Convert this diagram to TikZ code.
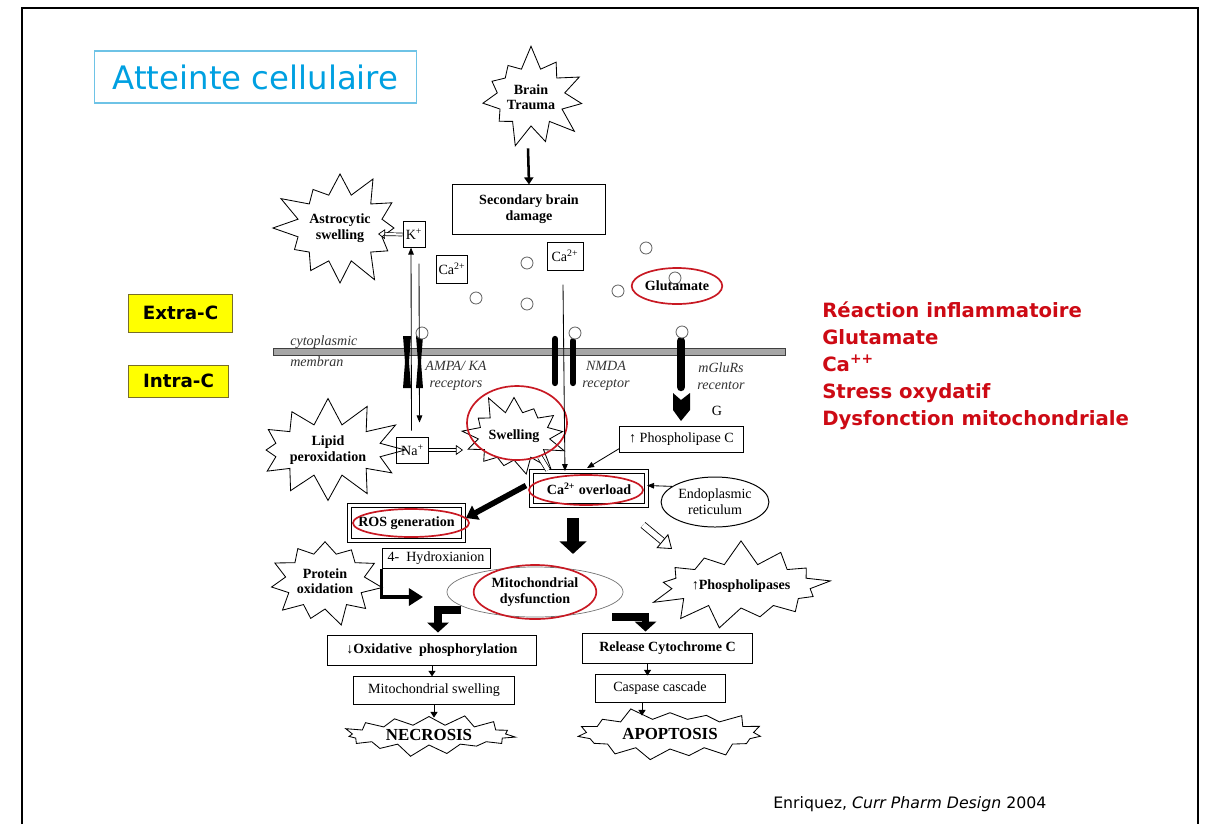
\documentclass[tikz,border=0pt]{standalone}
\usepackage{fontspec}
\setmainfont{Liberation Serif}
\newfontfamily\comicfont{DejaVu Sans}
\usepackage{tikz}
\usetikzlibrary{arrows.meta,shapes.symbols,shapes.geometric,calc,positioning}
\usepackage{xcolor}

\definecolor{slideblue}{RGB}{0,160,225}
\definecolor{frameblue}{RGB}{110,195,230}
\definecolor{alertred}{RGB}{205,10,20}
\definecolor{ringred}{RGB}{200,25,35}
\definecolor{tagyellow}{RGB}{255,255,0}
\definecolor{tagolive}{RGB}{120,110,40}

\tikzset{
  burst/.style={starburst, draw, fill=white, line width=0.6pt, align=center,
    inner sep=0pt, font=\bfseries\fontsize{10}{11}\selectfont},
  box/.style={draw, line width=0.7pt, inner sep=1pt, align=center,
    font=\fontsize{10}{11.5}\selectfont},
  bbox/.style={box, font=\bfseries\fontsize{10}{11.5}\selectfont},
  framed/.style={draw, double, double distance=2.5pt, line width=0.6pt,
    font=\bfseries\fontsize{10}{11.5}\selectfont},
  ring/.style={ellipse, draw=ringred, line width=1.2pt, inner sep=0pt},
  gcirc/.style={circle, draw=black!60, fill=white, line width=0.6pt,
    minimum size=0.3cm, inner sep=0pt},
  tag/.style={draw=tagolive, fill=tagyellow, line width=0.6pt,
    font=\comicfont\bfseries\fontsize{13}{15}\selectfont},
  rcpt/.style={font=\itshape\fontsize{10}{12}\selectfont, text=black!80, align=center},
  thin/.style={line width=0.6pt, -{Triangle[length=5pt,width=4pt]}},
  tiny/.style={line width=0.7pt, -{Triangle[length=4pt,width=5pt]}},
  med/.style={line width=1.8pt, -{Triangle[length=5pt,width=6.5pt]}},
  fat/.style={line width=4pt, -{Triangle[length=8pt,width=11pt]}},
  bigdown/.style={line width=9pt, -{Triangle[length=9pt,width=19pt]}},
  elbow/.style={line width=5.5pt, line join=miter, -{Triangle[length=7pt,width=15pt]}},
  elbowthin/.style={line width=2.4pt, line join=miter, -{Triangle[length=10pt,width=12pt]}},
  hollow/.style={double, double distance=1.6pt, line width=0.5pt,
    -{Triangle[open,length=5pt,width=7pt]}},
  hollowbig/.style={double, double distance=4pt, line width=0.6pt,
    -{Triangle[open,length=9pt,width=13pt]}},
}

\begin{document}
\begin{tikzpicture}[x=0.025cm,y=-0.025cm,>=Latex]
  \useasboundingbox (0,0) rectangle (1220,824);
  \draw[line width=1.3pt] (22,824) -- (22,8) -- (1198,8) -- (1198,824);

  % slide title, tags, notes
  \node[draw=frameblue, line width=0.8pt, minimum width=8.03cm, minimum height=1.3cm,
    text=slideblue, font=\comicfont\fontsize{23}{26}\selectfont] (title) at (255.5,77) {Atteinte cellulaire};
  \node[tag, minimum width=2.58cm, minimum height=0.95cm] (extra) at (180.5,313) {Extra-C};
  \node[tag, minimum width=2.48cm, minimum height=0.8cm] (intra) at (178.5,381) {Intra-C};
  \node[anchor=north west, inner sep=0pt, align=left, text=alertred,
    font=\comicfont\bfseries\fontsize{14}{19.2}\selectfont] (alerts) at (822,301)
    {Réaction inflammatoire\\Glutamate\\Ca\textsuperscript{++}\\Stress oxydatif\\Dysfonction mitochondriale};
  \node[anchor=base west, inner sep=0pt, font=\comicfont\fontsize{11.2}{13}\selectfont] (cite) at (773,808)
    {Enriquez, \textit{Curr Pharm Design} 2004};

  % membrane and receptors
  \draw[fill=black!35, draw=black!75, line width=0.4pt] (273,348) rectangle (785,355);
  \node[rcpt, anchor=base west, inner sep=0pt] (cytolbl) at (290,345) {cytoplasmic};
  \node[rcpt, anchor=base west, inner sep=0pt] (memblbl) at (290,366) {membran};
  \fill (403,336) -- (411,336) -- (409,362) -- (411,388) -- (403,388) -- (405,362) -- cycle;
  \fill (416,336) -- (423,336) -- (421,362) -- (423,388) -- (416,388) -- (418,362) -- cycle;
  \draw[line width=4.5pt, line cap=round] (555,339) -- (555,383);
  \draw[line width=4.5pt, line cap=round] (573,341) -- (573,383);
  \draw[line width=6pt, line cap=round] (681,341) -- (681,387);
  \fill (673,393) -- (681,400) -- (690,393) -- (690,410) -- (681,421) -- (673,410) -- cycle;
  \node[rcpt] (ampalbl) at (456,376) {AMPA/ KA\\receptors};
  \node[rcpt] (nmdalbl) at (606,376) {NMDA\\receptor};
  \node[rcpt] (mglulbl) at (721,376) {mGluRs\\recentor};
  \node[font=\fontsize{10}{11}\selectfont] (glbl) at (717,411) {G};

  % glutamate
  \node[gcirc] (g1) at (527,263) {};
  \node[gcirc] (g2) at (476,298) {};
  \node[gcirc] (g3) at (527,304) {};
  \node[gcirc] (g4) at (646,248) {};
  \node[gcirc] (g5) at (618,291) {};
  \node[gcirc] (g6) at (675,278) {};
  \node[gcirc] (g7) at (422,333) {};
  \node[gcirc] (g8) at (575,333) {};
  \node[gcirc] (g9) at (682,332) {};
  \node[ring, minimum width=2.2cm, minimum height=0.9cm, font=\bfseries\fontsize{10}{11}\selectfont,
    text depth=-5pt] (glut) at (677,286) {Glutamate};

  % stars
  \node[burst, minimum width=2.8cm, minimum height=2.65cm, starburst points=11,
    starburst point height=0.6cm, random starburst=7] (trauma) at (531,97) {Brain\\Trauma};
  \node[burst, minimum width=2.75cm, minimum height=3.1cm, starburst points=12,
    starburst point height=0.7cm, random starburst=21] (astro) at (340,228) {Astrocytic\\swelling};
  \node[burst, minimum width=3.1cm, minimum height=2.6cm, starburst points=12,
    starburst point height=0.65cm, random starburst=33] (lipid) at (328,450) {Lipid\\peroxidation};
  \node[burst, minimum width=2.55cm, minimum height=2.2cm, starburst points=13,
    starburst point height=0.5cm, random starburst=44] (swell) at (514,436) {Swelling};
  \node[burst, minimum width=2.5cm, minimum height=2.6cm, starburst points=11,
    starburst point height=0.6cm, random starburst=55] (protein) at (325,581) {Protein\\oxidation};
  \node[burst, minimum width=3.7cm, minimum height=2.3cm, starburst points=13,
    starburst point height=0.6cm, random starburst=66] (phosph) at (741,586) {\textuparrow Phospholipases};
  \node[burst, minimum width=4.45cm, minimum height=1.1cm, starburst points=15,
    starburst point height=0.3cm, random starburst=77, font=\bfseries\fontsize{12}{13}\selectfont] (necro) at (429,735) {NECROSIS};
  \node[burst, minimum width=4.9cm, minimum height=1.45cm, starburst points=15,
    starburst point height=0.35cm, random starburst=88, font=\bfseries\fontsize{12}{13}\selectfont] (apopt) at (670,734) {APOPTOSIS};
  \node[ring, minimum width=2.5cm, minimum height=1.85cm] (swellring) at (517,423) {};

  % boxes
  \node[bbox, minimum width=3.8cm, minimum height=1.23cm] (sbd) at (529,209.5) {Secondary brain\\damage};
  \node[box, minimum width=0.55cm, minimum height=0.63cm] (kion) at (414,234.5) {K\textsuperscript{+}};
  \node[box, minimum width=0.78cm, minimum height=0.7cm] (caL) at (452,269) {Ca\textsuperscript{2+}};
  \node[box, minimum width=0.9cm, minimum height=0.7cm] (caR) at (565,256) {Ca\textsuperscript{2+}};
  \node[box, minimum width=0.78cm, minimum height=0.65cm] (na) at (412.5,450) {Na\textsuperscript{+}};
  \node[box, minimum width=3.08cm, minimum height=0.65cm] (plc) at (681.5,439) {\textuparrow\ Phospholipase C};
  \node[framed, minimum width=2.88cm, minimum height=0.85cm] (caover) at (589,488.5) {Ca\textsuperscript{2+} overload};
  \node[ring, minimum width=2.85cm, minimum height=0.75cm] (caring) at (586,490) {};
  \node[box, ellipse, minimum width=2.15cm, minimum height=1.25cm] (er) at (715,502) {Endoplasmic\\reticulum};
  \node[framed, minimum width=2.85cm, minimum height=0.88cm] (ros) at (406.5,523) {ROS generation};
  \node[ring, minimum width=2.9cm, minimum height=0.7cm] (rosring) at (411,523) {};
  \node[box, minimum width=2.7cm, minimum height=0.48cm] (hydrox) at (436,558.5) {4-\ \ Hydroxianion};
  \node[ellipse, draw=black!55, line width=0.5pt, minimum width=4.4cm, minimum height=1.25cm] (mito) at (535,592) {};
  \node[ring, minimum width=3cm, minimum height=1.35cm, align=center,
    font=\bfseries\fontsize{10}{11.5}\selectfont] (mitoring) at (535,592) {Mitochondrial\\dysfunction};
  \node[bbox, minimum width=5.2cm, minimum height=0.75cm] (oxphos) at (432,650) {\textdownarrow Oxidative\ \ phosphorylation};
  \node[box, minimum width=4.0cm, minimum height=0.68cm] (mitosw) at (434,690.5) {Mitochondrial swelling};
  \node[bbox, minimum width=4.23cm, minimum height=0.75cm] (cytc) at (667.5,648) {Release Cytochrome C};
  \node[box, minimum width=3.25cm, minimum height=0.68cm] (casp) at (660,688.5) {Caspase cascade};

  % free ends
  \coordinate (astroin) at (378,234);
  \coordinate (swellin) at (463,450);
  \coordinate (phin) at (672,549);
  \coordinate (mleft) at (461,610);
  \coordinate (mright) at (612,617);
  \coordinate (oxin) at (423,597);

  % arrows
  \draw[med] ($(sbd.north)+(-1,-36)$) -- (sbd.north);
  \draw[hollow] (kion.west) -- (astroin);
  \draw[thin] ($(na.north)+(-1,-6)$) -- ($(kion.south)+(-3,0)$);
  \draw[thin] ($(kion.south)+(5,16)$) -- ($(na.north)+(7,-14)$);
  \draw[hollow] (na.east) -- (swellin);
  \draw[thin] ($(caR.south)+(-2,14)$) -- ($(caover.north west)+(34,0)$);
  \draw[thin] ($(plc.south west)+(0,-4)$) -- ($(caover.north)+(-2,-3)$);
  \draw[thin] (er.160) -- ($(caover.east)+(0,-3)$);
  \draw[double, double distance=3pt, line width=0.5pt] ($(caover.north west)+(17,-1)$) -- ($(caover.north west)+(9,-14)$);
  \draw[fat] ($(caover.west)+(-5,-3)$) -- ($(ros.east)+(2,-5)$);
  \draw[bigdown] ($(caover.south)+(-16,12)$) -- ($(caover.south)+(-16,48)$);
  \draw[hollowbig] ($(caover.south east)+(-4,19)$) -- (phin);
  \draw[elbowthin] (hydrox.south west) |- (oxin);
  \draw[elbow] (mleft) -| ($(oxphos.north)+(6,-2)$);
  \draw[elbow] (mright) -| ($(cytc.north)+(-22,-1)$);
  \draw[tiny] (oxphos.south) -- (oxphos.south |- mitosw.north);
  \draw[tiny] (mitosw.south) -- ($(mitosw.south)+(0,13)$);
  \draw[tiny] ($(cytc.south)+(-20,0)$) -- ($(cytc.south)+(-20,12)$);
  \draw[tiny] ($(casp.south)+(-18,0)$) -- ($(casp.south)+(-18,13)$);
\end{tikzpicture}
\end{document}
